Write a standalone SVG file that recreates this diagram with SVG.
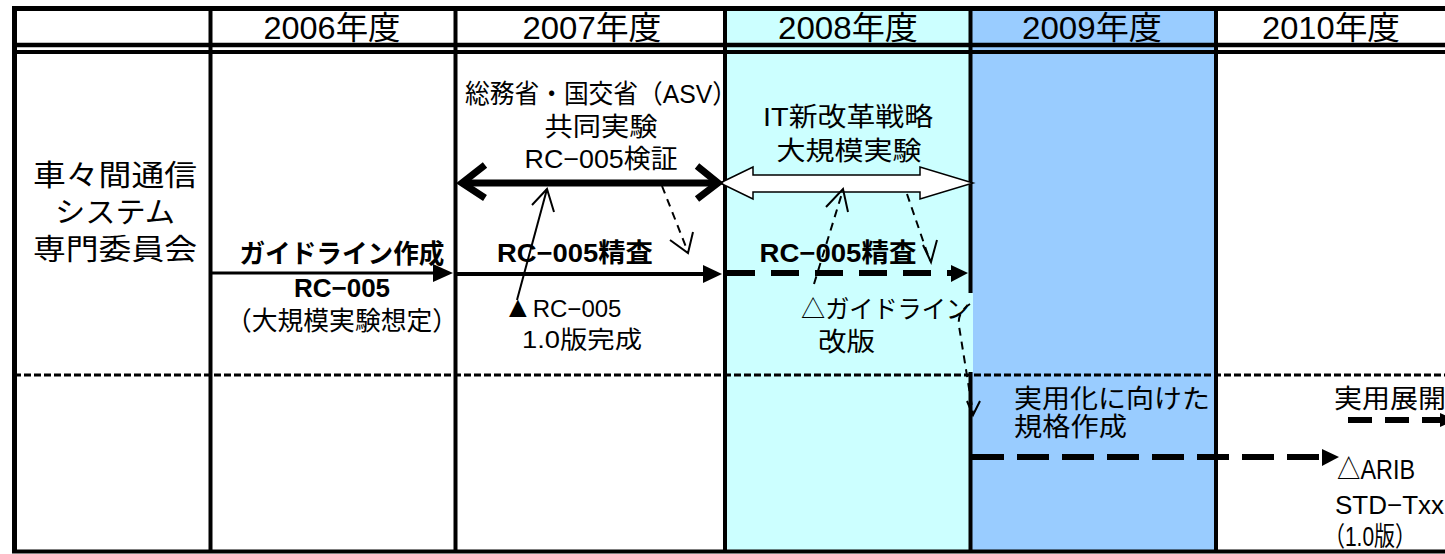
<svg xmlns="http://www.w3.org/2000/svg" width="1445" height="554" viewBox="0 0 1445 554">
<defs>
<style>
.t{font-family:"Liberation Sans","Noto Sans CJK JP",sans-serif;fill:#000}
.h{font-size:32px}
.m{font-size:26px}
.s{font-size:24px}
.b{font-weight:bold}
.ln{stroke:#000;fill:none}
.thin{stroke:#000;stroke-width:2;fill:none}
.dthin{stroke:#000;stroke-width:2;fill:none;stroke-dasharray:8 6}
.head{fill:#000;stroke:none}
</style>
</defs>
<rect width="1445" height="554" fill="#fff"/>
<g id="bands">
<rect x="725" y="8" width="245.5" height="543" fill="#CCFFFF"/>
<rect x="970.5" y="8" width="245.5" height="543" fill="#99CCFF"/>
</g>
<g id="grid" class="ln">
<line x1="12" y1="8.5" x2="1445" y2="8.5" stroke-width="5"/>
<line x1="12" y1="45" x2="1445" y2="45" stroke-width="4.5"/>
<line x1="12" y1="52" x2="1445" y2="52" stroke-width="4"/>
<line x1="14" y1="375" x2="1445" y2="375" stroke-width="3" stroke-dasharray="7 3"/>
<line x1="14.5" y1="6" x2="14.5" y2="553" stroke-width="5"/>
<line x1="210.5" y1="6" x2="210.5" y2="553" stroke-width="4"/>
<line x1="455.5" y1="6" x2="455.5" y2="553" stroke-width="4"/>
<line x1="725" y1="6" x2="725" y2="553" stroke-width="4"/>
<line x1="970.5" y1="6" x2="970.5" y2="553" stroke-width="4"/>
<line x1="1216" y1="6" x2="1216" y2="553" stroke-width="4"/>
<line x1="12" y1="551.5" x2="1445" y2="551.5" stroke-width="4"/>
</g>
<g id="headers" class="t h">
<text id="h2006" x="332" y="39" text-anchor="middle" textLength="137" lengthAdjust="spacingAndGlyphs">2006年度</text>
<text id="h2007" x="592" y="39" text-anchor="middle" textLength="139" lengthAdjust="spacingAndGlyphs">2007年度</text>
<text id="h2008" x="848" y="39" text-anchor="middle" textLength="140" lengthAdjust="spacingAndGlyphs">2008年度</text>
<text id="h2009" x="1092" y="39" text-anchor="middle" textLength="140" lengthAdjust="spacingAndGlyphs">2009年度</text>
<text id="h2010" x="1331" y="39" text-anchor="middle" textLength="138" lengthAdjust="spacingAndGlyphs">2010年度</text>
</g>
<g id="committee" class="t" font-size="29">
<text x="115" y="186" text-anchor="middle" textLength="164" lengthAdjust="spacingAndGlyphs">車々間通信</text>
<text x="115" y="223" text-anchor="middle" textLength="120" lengthAdjust="spacingAndGlyphs">システム</text>
<text x="115" y="260" text-anchor="middle" textLength="164" lengthAdjust="spacingAndGlyphs">専門委員会</text>
</g>
<g id="guideline2006" class="t">
<text class="b" x="342" y="263" font-size="26" text-anchor="middle" textLength="205" lengthAdjust="spacingAndGlyphs">ガイドライン作成</text>
<text class="b" x="342" y="297" font-size="26" text-anchor="middle">RC−005</text>
<text x="342" y="330" font-size="26" text-anchor="middle" textLength="232" lengthAdjust="spacingAndGlyphs">（大規模実験想定）</text>
</g>
<g id="joint2007" class="t m">
<text x="601" y="103" text-anchor="middle" textLength="272" lengthAdjust="spacingAndGlyphs">総務省・国交省（ASV）</text>
<text x="601" y="136" text-anchor="middle" textLength="113" lengthAdjust="spacingAndGlyphs">共同実験</text>
<text x="601" y="168" text-anchor="middle" textLength="153" lengthAdjust="spacingAndGlyphs">RC−005検証</text>
</g>
<g id="review2007" class="t">
<text class="b m" x="575" y="262" text-anchor="middle" textLength="156" lengthAdjust="spacingAndGlyphs">RC−005精査</text>
</g>
<g id="rc005done" class="t s">
<text x="503" y="317"><tspan font-size="30">▲</tspan>RC−005</text>
<text x="582" y="348" text-anchor="middle" textLength="120" lengthAdjust="spacingAndGlyphs">1.0版完成</text>
</g>
<g id="itstrategy2008" class="t m">
<text x="848" y="126" text-anchor="middle" textLength="170" lengthAdjust="spacingAndGlyphs">IT新改革戦略</text>
<text x="849" y="160" text-anchor="middle" textLength="145" lengthAdjust="spacingAndGlyphs">大規模実験</text>
</g>
<g id="review2008" class="t">
<text class="b m" x="838" y="262" text-anchor="middle" textLength="157" lengthAdjust="spacingAndGlyphs">RC−005精査</text>
</g>
<g id="guiderev2008">
<rect x="796" y="293" width="177" height="79" fill="#CCFFFF"/>
<text class="t" font-size="25" x="801" y="318" textLength="169" lengthAdjust="spacingAndGlyphs">△ガイドライン</text>
<text class="t" font-size="26" x="818" y="351" textLength="57" lengthAdjust="spacingAndGlyphs">改版</text>
</g>
<g id="standard2009" class="t" font-size="26">
<text x="1014" y="408" textLength="196" lengthAdjust="spacingAndGlyphs">実用化に向けた</text>
<text x="1014" y="436" textLength="113" lengthAdjust="spacingAndGlyphs">規格作成</text>
</g>
<g id="deploy2010" class="t">
<text x="1334" y="408" font-size="26" textLength="112" lengthAdjust="spacingAndGlyphs">実用展開</text>
<text x="1337" y="479" font-size="27" textLength="78" lengthAdjust="spacingAndGlyphs">△ARIB</text>
<text x="1335" y="514" font-size="26">STD−Txx</text>
<text x="1324" y="546" font-size="27" textLength="92" lengthAdjust="spacingAndGlyphs">（1.0版）</text>
</g>
<g id="connectors">
<polygon points="720,183 753,167 753,175 920,175 920,167 973,183 920,199 920,192 753,192 753,199" fill="#fff" stroke="#000" stroke-width="1.5" stroke-linejoin="miter"/>
<line class="ln" x1="464" y1="183" x2="715" y2="183" stroke-width="7"/>
<polyline class="ln" points="485,165 462,183 485,198" stroke-width="7" stroke-linejoin="miter"/>
<polyline class="ln" points="697,166 718,183 697,199" stroke-width="7" stroke-linejoin="miter"/>
<line class="ln" x1="212" y1="273" x2="436" y2="273" stroke-width="3"/>
<polygon class="head" points="433,264 453,273 433,282"/>
<line class="ln" x1="457" y1="274" x2="705" y2="274" stroke-width="4"/>
<polygon class="head" points="703,265 722,274 703,283"/>
<line class="ln" x1="727" y1="273" x2="952" y2="273" stroke-width="6" stroke-dasharray="28 16"/>
<polygon class="head" points="951,265 968,273 951,282"/>
<line class="thin" x1="517" y1="300" x2="547" y2="189"/>
<polyline class="thin" points="532,205 547,189 554,212"/>
<line class="dthin" x1="662" y1="186" x2="688" y2="252"/>
<polyline class="thin" points="670,240 688,253 693,232"/>
<line class="dthin" x1="814" y1="284" x2="843" y2="190"/>
<polyline class="thin" points="826,207 843,189 848,212"/>
<line class="dthin" x1="907" y1="194" x2="930" y2="261"/>
<polyline class="thin" points="923,245 931,262 937,240"/>
<path class="dthin" d="M970 304 Q957 312 959 326 L973 413"/>
<polyline class="thin" points="967,401 973,415 980,401"/>
<line class="ln" x1="972" y1="457" x2="1322" y2="457" stroke-width="6" stroke-dasharray="32 13"/>
<polygon class="head" points="1322,449 1339,457 1322,466"/>
<line class="ln" x1="1348" y1="420" x2="1440" y2="420" stroke-width="6" stroke-dasharray="24 13"/>
<polygon class="head" points="1440,413 1456,420 1440,427"/>
</g>
</svg>
